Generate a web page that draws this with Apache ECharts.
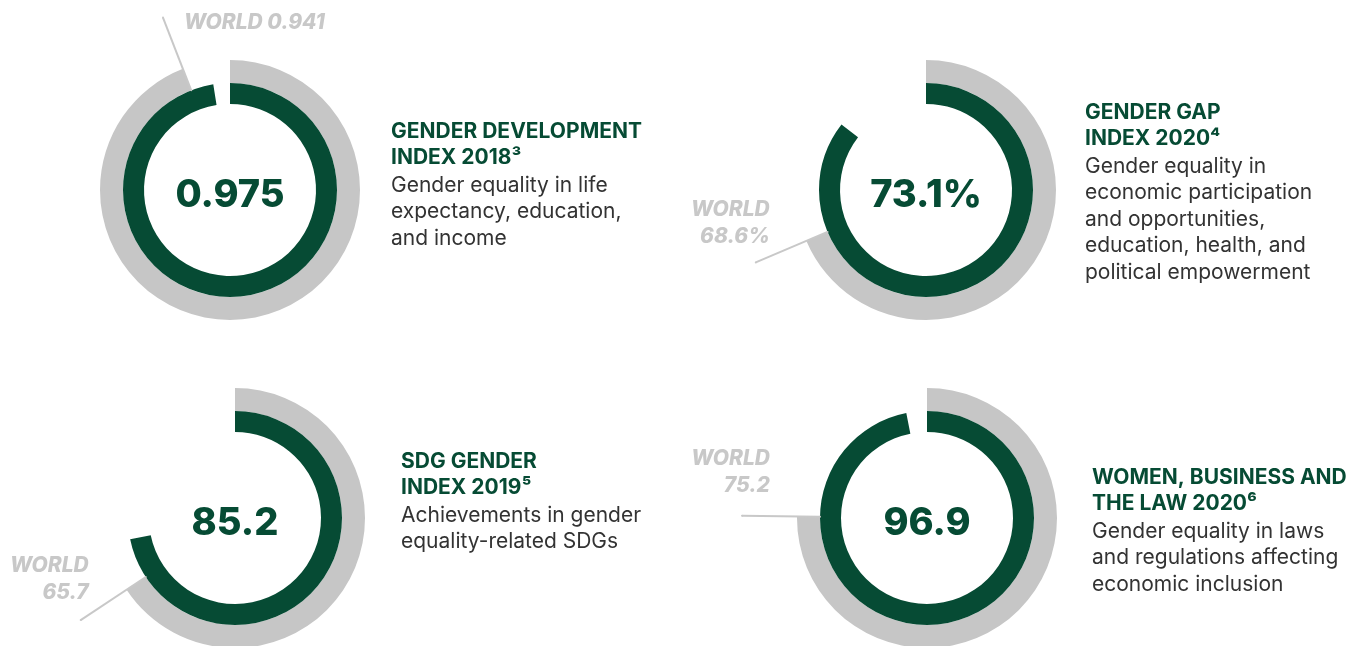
<!DOCTYPE html>
<html>
<head>
<meta charset="utf-8">
<script src="https://cdn.jsdelivr.net/npm/echarts@6/dist/echarts.min.js"></script>
<style>
html,body{margin:0;padding:0;background:#fff;}
#chart{width:1351px;height:646px;}
</style>
</head>
<body>
<div id="chart"></div>
<script>
// ---- data ----
const indexTitles = [
  'GENDER DEVELOPMENT\nINDEX 2018³',
  'GENDER GAP\nINDEX 2020⁴',
  'SDG GENDER\nINDEX 2019⁵',
  'WOMEN, BUSINESS AND\nTHE LAW 2020⁶'
];
const indexDescriptions = [
  'Gender equality in life\nexpectancy, education,\nand income',
  'Gender equality in\neconomic participation\nand opportunities,\neducation, health, and\npolitical empowerment',
  'Achievements in gender\nequality-related SDGs',
  'Gender equality in laws\nand regulations affecting\neconomic inclusion'
];
const countryLabels = ['0.975', '73.1%', '85.2', '96.9'];
// arc length of the green ring as drawn in the picture
const countryArc = [0.975, 85.5, 71.8, 96.9];
const worldValues = [0.941, 68.6, 65.7, 75.2];
const worldLabels = ['WORLD 0.941', 'WORLD\n68.6%', 'WORLD\n65.7', 'WORLD\n75.2'];
const scaleMax = [1, 100, 100, 100];

// ---- layout / style ----
const GREEN = '#064b34';
const GREY = '#c6c6c6';
const LABEL_GREY = '#c8c8c8';
const FONT = 'Inter, "Noto Sans", sans-serif';
const centers = [[230, 190], [926, 190], [235, 518], [927, 518]];
const titlePos = [[391, 118], [1085, 99], [401, 448], [1092, 464]];
const worldLabelPos = [
  {position: [22, 6], align: 'left'},
  {position: [15, -38], align: 'right'},
  {position: [9, -40], align: 'right'},
  {position: [29, -42], align: 'right'}
];

const chart = echarts.init(document.getElementById('chart'), null, {renderer: 'canvas'});

const series = [];
const polar = [], radiusAxis = [], angleAxis = [], title = [];

centers.forEach((c, i) => {
  // grey world ring
  series.push({
    type: 'pie', center: c, radius: [107, 130], startAngle: 90, clockwise: true,
    silent: true, animation: false, avoidLabelOverlap: false,
    label: {show: false}, labelLine: {show: false},
    itemStyle: {borderWidth: 0},
    data: [
      {value: worldValues[i], itemStyle: {color: GREY}},
      {value: scaleMax[i] - worldValues[i], itemStyle: {color: 'rgba(0,0,0,0)'}}
    ]
  });
  // green country ring
  series.push({
    type: 'pie', center: c, radius: [86, 107], startAngle: 90, clockwise: true,
    silent: true, animation: false, avoidLabelOverlap: false,
    label: {show: false}, labelLine: {show: false},
    itemStyle: {borderWidth: 0},
    data: [
      {value: countryArc[i], itemStyle: {color: GREEN},
       label: {show: true, position: 'center', formatter: '{v|' + countryLabels[i] + '}',
               rich: {v: {color: GREEN, fontSize: 38, fontWeight: 800, fontFamily: FONT,
                          padding: [12, 0, 0, 0]}}}},
      {value: scaleMax[i] - countryArc[i], itemStyle: {color: 'rgba(0,0,0,0)'}}
    ]
  });
  // polar system for the world leader line
  polar.push({center: c, radius: 200});
  radiusAxis.push({polarIndex: i, type: 'value', min: 0, max: 200, show: false,
    axisLine: {show: false}, axisTick: {show: false}, axisLabel: {show: false}, splitLine: {show: false}});
  angleAxis.push({polarIndex: i, type: 'value', min: 0, max: scaleMax[i], startAngle: 90, clockwise: true, show: false,
    axisLine: {show: false}, axisTick: {show: false}, axisLabel: {show: false}, splitLine: {show: false}});
  const lp = worldLabelPos[i];
  series.push({
    type: 'line', coordinateSystem: 'polar', polarIndex: i, silent: true, animation: false,
    clip: false,
    symbol: 'circle', symbolSize: 2, showSymbol: true,
    lineStyle: {color: LABEL_GREY, width: 2},
    itemStyle: {color: LABEL_GREY},
    label: {
      show: true,
      formatter: (p) => p.dataIndex === 1 ? worldLabels[i] : '',
      position: lp.position, align: lp.align, verticalAlign: 'middle',
      color: LABEL_GREY, fontSize: 21, fontWeight: 800, fontStyle: 'italic',
      fontFamily: FONT, lineHeight: 27
    },
    data: [
      [107, worldValues[i]],
      [185, worldValues[i]]
    ]
  });
  // description block
  title.push({
    left: titlePos[i][0], top: titlePos[i][1], padding: 0, itemGap: 1,
    text: indexTitles[i], subtext: indexDescriptions[i],
    textStyle: {color: GREEN, fontSize: 21, fontWeight: 'bold', fontFamily: FONT, lineHeight: 26.5},
    subtextStyle: {color: '#333333', fontSize: 21, fontWeight: 'normal', fontFamily: FONT, lineHeight: 26.5}
  });
});

chart.setOption({
  backgroundColor: '#ffffff',
  animation: false,
  title: title,
  polar: polar,
  radiusAxis: radiusAxis,
  angleAxis: angleAxis,
  series: series
});
</script>
</body>
</html>
